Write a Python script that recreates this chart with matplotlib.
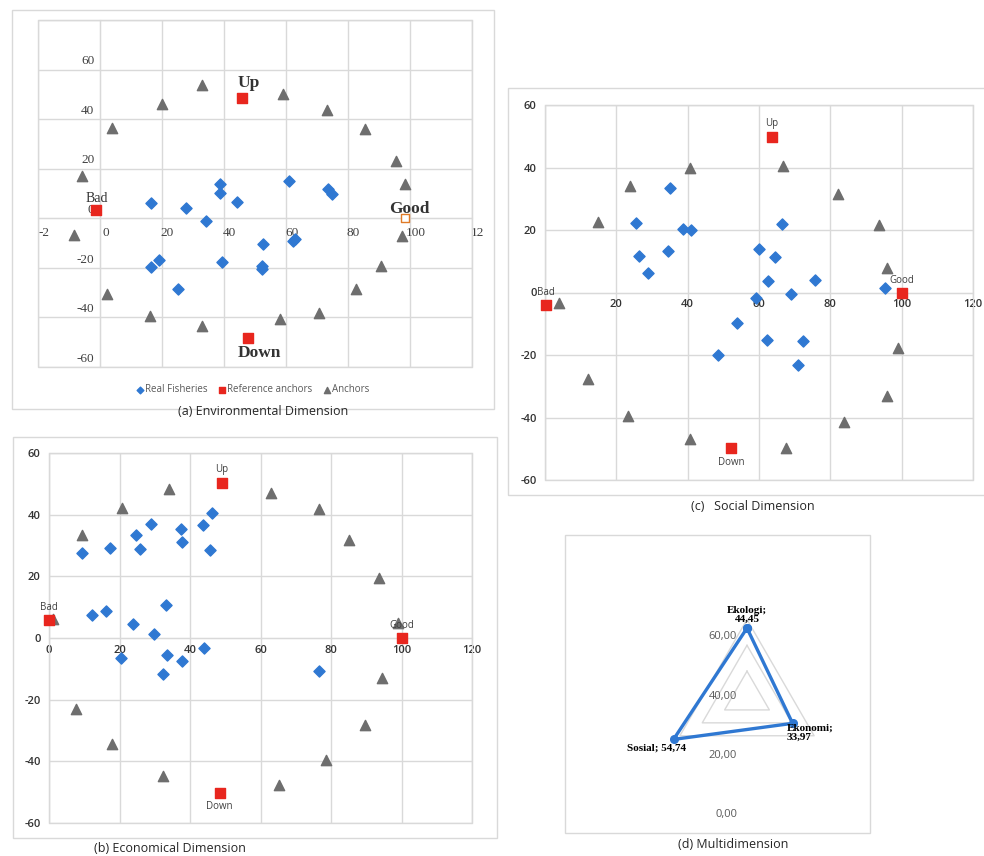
import matplotlib
matplotlib.use("Agg")
import numpy as np
import matplotlib.pyplot as plt
from matplotlib.patches import Rectangle
from matplotlib.transforms import ScaledTranslation

# (a) Environmental dimension
env_fish_x = [16.6, 27.9, 38.8, 38.8, 34.3, 44.3, 60.9, 73.7, 74.9, 52.6, 62.8, 62.2, 16.4, 19.1, 39.2, 52.3, 52.3, 25.0]
env_fish_y = [6.3, 4.0, 13.7, 10.3, -1.1, 6.4, 14.9, 11.7, 10.0, -10.3, -8.4, -9.3, -19.6, -16.7, -17.6, -19.1, -20.4, -28.7]
env_anchor_x = [33.0, 19.9, 3.8, -5.9, -8.4, 2.1, 16.1, 32.9, 58.2, 70.8, 82.6, 90.5, 97.3, 98.4, 95.5, 85.6, 73.2, 59.0]
env_anchor_y = [53.7, 46.0, 36.4, 17.1, -6.7, -30.7, -39.6, -43.3, -40.7, -38.3, -28.7, -19.3, -7.1, 13.7, 23.3, 36.0, 43.6, 50.3]
env_ref_x = [-1.4, 98.5, 45.8, 47.7]
env_ref_y = [3.3, 0.0, 48.4, -48.3]

# (b) Economical dimension
eco_fish_x = [9.4, 17.2, 24.8, 25.7, 28.8, 37.4, 37.6, 43.7, 46.3, 45.8, 12.3, 16.1, 23.8, 33.3, 29.7, 20.5, 33.5, 37.6, 44.0, 32.2, 76.6]
eco_fish_y = [27.6, 29.3, 33.3, 29.0, 37.1, 35.5, 31.1, 36.8, 40.4, 28.5, 7.6, 8.6, 4.4, 10.6, 1.2, -6.5, -5.6, -7.5, -3.1, -11.6, -10.7]
eco_anchor_x = [1.1, 9.4, 20.8, 34.1, 63.1, 76.6, 85.1, 93.7, 99.0, 94.6, 89.6, 78.7, 65.3, 32.2, 18.0, 7.8]
eco_anchor_y = [6.3, 33.3, 42.2, 48.4, 47.0, 41.7, 31.9, 19.5, 4.9, -12.9, -28.3, -39.7, -47.6, -44.9, -34.3, -23.1]
eco_ref_x = [0.0, 100.0, 49.1, 48.4]
eco_ref_y = [6.0, 0.0, 50.3, -50.2]

# (c) Social dimension
soc_fish_x = [35.0, 25.4, 26.4, 28.8, 34.6, 38.8, 40.9, 66.4, 60.1, 64.5, 62.4, 75.7, 69.0, 59.1, 53.7, 62.2, 72.2, 70.8, 48.6, 95.3]
soc_fish_y = [33.3, 22.3, 11.7, 6.3, 13.2, 20.2, 19.9, 21.8, 13.9, 11.3, 3.6, 3.9, -0.5, -1.9, -9.9, -15.3, -15.6, -23.3, -20.1, 1.6]
soc_anchor_x = [4.0, 14.8, 23.8, 40.7, 66.6, 82.2, 93.6, 95.8, 99.1, 95.8, 83.9, 67.6, 40.7, 23.4, 12.0]
soc_anchor_y = [-3.5, 22.6, 34.0, 40.0, 40.5, 31.5, 21.5, 7.7, -17.9, -33.1, -41.4, -49.9, -47.0, -39.5, -27.8]
soc_ref_x = [0.3, 100.0, 63.6, 52.2]
soc_ref_y = [-4.1, 0.0, 49.8, -49.9]

ref_names = ["Bad", "Good", "Up", "Down"]

# (d) Multidimension
dims = ["Ekologi", "Ekonomi", "Sosial"]
scores = [44.45, 33.97, 54.74]
radial_ticks = [0, 20, 40, 60]

blue = "#2f78d2"
red = "#e8261e"
grey = "#6e6e6e"
gridc = "#d9d9d9"
sans = "Open Sans"
serif = "Liberation Serif"

W, H = 984, 856
fig = plt.figure(figsize=(W / 100, H / 100), dpi=100)


def box(l, t, r, b):
    return [l / W, 1 - b / H, (r - l) / W, (b - t) / H]


def frame(l, t, r, b):
    fig.add_artist(Rectangle((l / W, 1 - b / H), (r - l) / W, (b - t) / H,
                             transform=fig.transFigure, fill=False, ec=gridc, lw=1))


def caption(text, x, y):
    fig.text(x / W, 1 - y / H, text, ha="center", va="center", family=sans, fontsize=9, color="#262626")


def base_axes(rect, xlim, ylim):
    ax = fig.add_axes(box(*rect))
    ax.set_xlim(*xlim)
    ax.set_ylim(*ylim)
    ax.grid(True, color=gridc, lw=1)
    ax.set_axisbelow(True)
    for s in ax.spines.values():
        s.set_color(gridc)
    ax.spines["bottom"].set_position(("data", 0))
    # plot area border (bottom spine is moved to y=0)
    ax.add_patch(Rectangle((0, 0), 1, 1, transform=ax.transAxes, fill=False, ec=gridc, lw=1,
                           zorder=0.5, clip_on=False))
    ax.tick_params(length=0)
    return ax


def points(ax, fx, fy, axx, ayy, rx, ry, hollow_good=False):
    ax.scatter(fx, fy, marker="D", s=32, color=blue, zorder=3, label="Real Fisheries", clip_on=False)
    filled = [i for i in range(4) if not (hollow_good and ref_names[i] == "Good")]
    ax.scatter([rx[i] for i in filled], [ry[i] for i in filled], marker="s", s=50, color=red,
               zorder=4, label="Reference anchors", clip_on=False)
    if hollow_good:
        ax.scatter([rx[1]], [ry[1]], marker="s", s=40, facecolor="white", edgecolor="#e07b28", lw=1,
                   zorder=4, clip_on=False)
    ax.scatter(axx, ayy, marker="^", s=55, color=grey, zorder=3, label="Anchors", clip_on=False)


# ---- (a) ----
frame(12, 10, 494, 409)
ax_a = base_axes((38, 20, 472, 367), (-20, 120), (-60, 80))
ax_a.spines["left"].set_position(("data", 0))
ax_a.set_xticks(range(-20, 121, 20), ["-2", "0", "20", "40", "60", "80", "100", "12"],
                family=serif, fontsize=9.5, color="#404040")
ax_a.set_yticks(range(-60, 81, 20), ["-60", "-40", "-20", "0", "20", "40", "60", ""],
                family=serif, fontsize=9.5, color="#404040")
ax_a.tick_params(axis="x", pad=6)
ax_a.tick_params(axis="y", pad=4)
for lab in ax_a.get_xticklabels():
    lab.set_transform(lab.get_transform() + ScaledTranslation(4 / 72, 0, fig.dpi_scale_trans))
for lab in ax_a.get_yticklabels():
    lab.set_transform(lab.get_transform() + ScaledTranslation(0, 7 / 72, fig.dpi_scale_trans))
points(ax_a, env_fish_x, env_fish_y, env_anchor_x, env_anchor_y, env_ref_x, env_ref_y, hollow_good=True)
a_offsets = {"Bad": (1, 4, "bottom", 10, "normal"), "Good": (3, 1, "bottom", 12.5, "bold"),
             "Up": (5, 5, "bottom", 12.5, "bold"), "Down": (8, -5, "top", 12.5, "bold")}
for i, name in enumerate(ref_names):
    dx, dy, va, fs, fw = a_offsets[name]
    ax_a.annotate(name, (env_ref_x[i], env_ref_y[i]), xytext=(dx, dy), textcoords="offset points",
                  ha="center", va=va, family=serif, fontsize=fs, fontweight=fw, color="#333333")
handles, labels = ax_a.get_legend_handles_labels()
fig.legend(handles, labels, loc="center", bbox_to_anchor=(253 / W, 1 - 390 / H), ncol=3, frameon=False,
           prop={"family": sans, "size": 7}, labelcolor="#595959", markerscale=0.6,
           handlelength=0.6, handletextpad=0.2, columnspacing=1.2)
caption("(a) Environmental Dimension", 263, 411)


def small_labels(ax, rx, ry):
    offs = {"Bad": (0, 5, "bottom"), "Good": (0, 5, "bottom"), "Up": (0, 6, "bottom"), "Down": (0, -6, "top")}
    for i, name in enumerate(ref_names):
        dx, dy, va = offs[name]
        ax.annotate(name, (rx[i], ry[i]), xytext=(dx, dy), textcoords="offset points", ha="center", va=va,
                    family=sans, fontsize=7, color="#404040")


# ---- (b) ----
frame(13, 437, 497, 838)
ax_b = base_axes((49, 453, 472, 823), (0, 120), (-60, 60))
ax_b.set_xticks(range(0, 121, 20), [str(v) for v in range(0, 121, 20)],
                family=sans, fontsize=8, fontweight="semibold", color="#333333")
ax_b.set_yticks(range(-60, 61, 20), [str(v) for v in range(-60, 61, 20)],
                family=sans, fontsize=8, fontweight="semibold", color="#333333")
ax_b.tick_params(axis="x", pad=5)
ax_b.tick_params(axis="y", pad=6)
points(ax_b, eco_fish_x, eco_fish_y, eco_anchor_x, eco_anchor_y, eco_ref_x, eco_ref_y)
small_labels(ax_b, eco_ref_x, eco_ref_y)
caption("(b) Economical Dimension", 170, 849)

# ---- (c) ----
frame(508, 88, 992, 495)
ax_c = base_axes((545, 105, 973, 480), (0, 120), (-60, 60))
ax_c.set_xticks(range(0, 121, 20), [""] + [str(v) for v in range(20, 121, 20)],
                family=sans, fontsize=8, fontweight="semibold", color="#333333")
ax_c.set_yticks(range(-60, 61, 20), [str(v) for v in range(-60, 61, 20)],
                family=sans, fontsize=8, fontweight="semibold", color="#333333")
ax_c.tick_params(axis="x", pad=5)
ax_c.tick_params(axis="y", pad=6)
points(ax_c, soc_fish_x, soc_fish_y, soc_anchor_x, soc_anchor_y, soc_ref_x, soc_ref_y)
small_labels(ax_c, soc_ref_x, soc_ref_y)
caption("(c)   Social Dimension", 753, 507)

# ---- (d) ----
frame(565, 535, 870, 833)
ax_d = fig.add_axes(box(654, 604, 840, 790), projection="polar")
ax_d.set_ylim(0, 60)
angles = np.deg2rad([90, -30, 210])
closed = np.append(angles, angles[0])
for k in (1, 2, 3):
    level = 50 * k / 3
    ax_d.plot(closed, [level] * 4, color=gridc, lw=1)
ax_d.plot(closed, scores + [scores[0]], color=blue, lw=2.4, marker="o", ms=5.5)
ax_d.axis("off")
d_offsets = [((0, 3), "center", "bottom"), ((-4, -7), "left", "center"), ((9, -3), "right", "top")]
for i, name in enumerate(dims):
    xy, ha, va = d_offsets[i]
    val = f"{scores[i]:.2f}".replace(".", ",")
    txt = f"{name};\n{val}" if i < 2 else f"{name}; {val}"
    ax_d.annotate(txt, (angles[i], scores[i]), xytext=xy, textcoords="offset points", ha=ha, va=va,
                  family=serif, fontsize=8, fontweight="bold", color="black", linespacing=1.0)
for v in radial_ticks:
    fig.text(737 / W, 1 - (815 - v * 2.97) / H, f"{v},00", ha="right", va="center",
             family=sans, fontsize=8, color="#595959")
caption("(d) Multidimension", 733, 845)

fig.savefig("out.png", dpi=100)
